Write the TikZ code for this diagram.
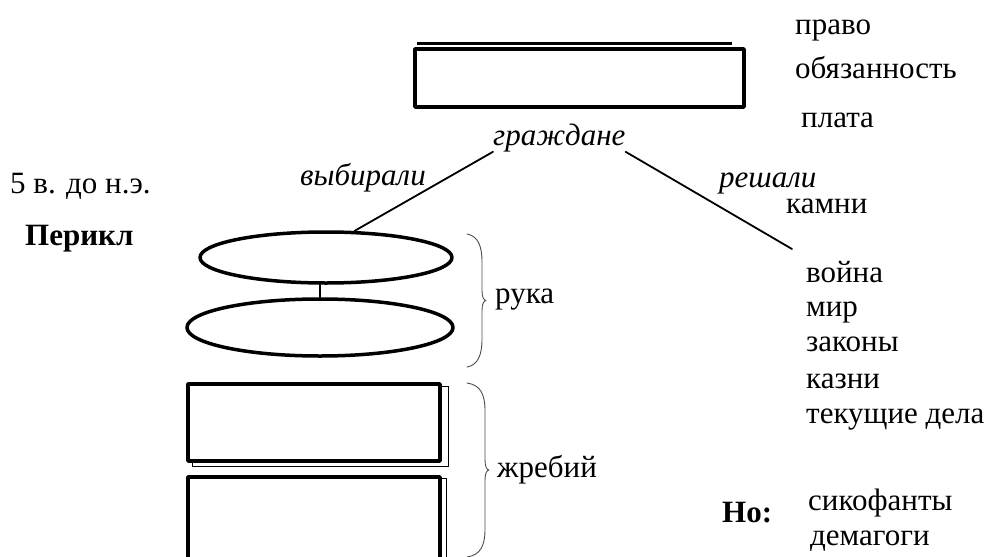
\documentclass[tikz,border=0pt]{standalone}
\usepackage{fontspec}
\setmainfont{Liberation Serif}
\usetikzlibrary{backgrounds,shapes.geometric}
\begin{document}
\begin{tikzpicture}[x=1pt, y=-1pt, line join=round, line cap=round,
	font=\fontsize{31}{35}\selectfont,
	txt/.style={inner sep=0pt, anchor=base west},
	frame/.style={draw, line width=3.5pt, fill=white, inner sep=0pt},
	oval/.style={frame, ellipse},
	conn/.style={line width=1.8pt},
	shd/.style={line width=1.3pt},
	brc/.style={line width=0.9pt, black!70}]
	\useasboundingbox (0,0) rectangle (986,557);
	\clip (0,0) rectangle (986,557);
	% boxes and ovals
	\node[frame, minimum width=329pt, minimum height=58pt] (box) at (579.5,78) {};
	\node[oval, minimum width=252pt, minimum height=51pt] (e1) at (326,257.5) {};
	\node[oval, minimum width=266pt, minimum height=57pt] (e2) at (320,327.5) {};
	\node[frame, minimum width=252pt, minimum height=77pt] (r1) at (314,422.5) {};
	\node[frame, minimum width=252pt, minimum height=120pt] (r2) at (314,537) {};
	\begin{pgfonlayer}{background}
		\draw[line width=3pt] (417,43) -- (732,43);
		\draw[shd] ([shift={(6.5,4)}]r1.north west) rectangle ([shift={(6.5,4)}]r1.south east);
		\draw[shd] ([shift={(5,3)}]r2.north west) rectangle ([shift={(5,3)}]r2.south east);
	\end{pgfonlayer}
	% texts
	\node[txt] (pravo) at (795,34) {право};
	\node[txt] (obyaz) at (795,78) {обязанность};
	\node[txt] (plata) at (801,127) {плата};
	\node[txt] (gr) at (493,145) {\itshape граждане};
	\node[txt] (vyb) at (300,185) {\itshape выбирали};
	\node[txt] (resh) at (719,187) {\itshape решали};
	\node[txt] (kamni) at (786,213) {камни};
	\node[txt] (vek) at (10,193) {5 в. до н.э.};
	\node[txt] (perikl) at (25,245) {\bfseries Перикл};
	\node[txt] (ruka) at (495,303) {рука};
	\node[txt] (zhreb) at (497,477) {жребий};
	\foreach \n/\w/\y in {w1/война/282,w2/мир/316,w3/законы/351,w4/казни/388,w5/текущие дела/423}
	{\node[txt] (\n) at (806,\y) {\w};}
	\node[txt] (no) at (722,522) {\bfseries Но:};
	\node[txt] (sik) at (808,510) {сикофанты};
	\node[txt] (dem) at (810,545) {демагоги};
	% connectors
	\coordinate (rEnd) at (792,249);
	\draw[conn] (gr.south west) -- (e1.43);
	\draw[conn] (gr.south east) -- (rEnd);
	\draw[conn] (e2.north |- e1.south) -- (e2.north);
	% braces
	\foreach \t/\b/\d in {234/367/0,383/557/3}
	{\pgfmathsetmacro\m{(\t+\b)/2}
		\draw[brc] (467,\t) .. controls (478+\d,\t+2) and (482+\d,\t+12) .. (482+\d,\t+28)
			-- (482+\d,\m-10) .. controls (482+\d,\m-3) and (484+\d,\m) .. (486+\d,\m)
			.. controls (484+\d,\m) and (482+\d,\m+3) .. (482+\d,\m+10)
			-- (482+\d,\b-28) .. controls (482+\d,\b-12) and (478+\d,\b-2) .. (467,\b);
	}
\end{tikzpicture}
\end{document}
